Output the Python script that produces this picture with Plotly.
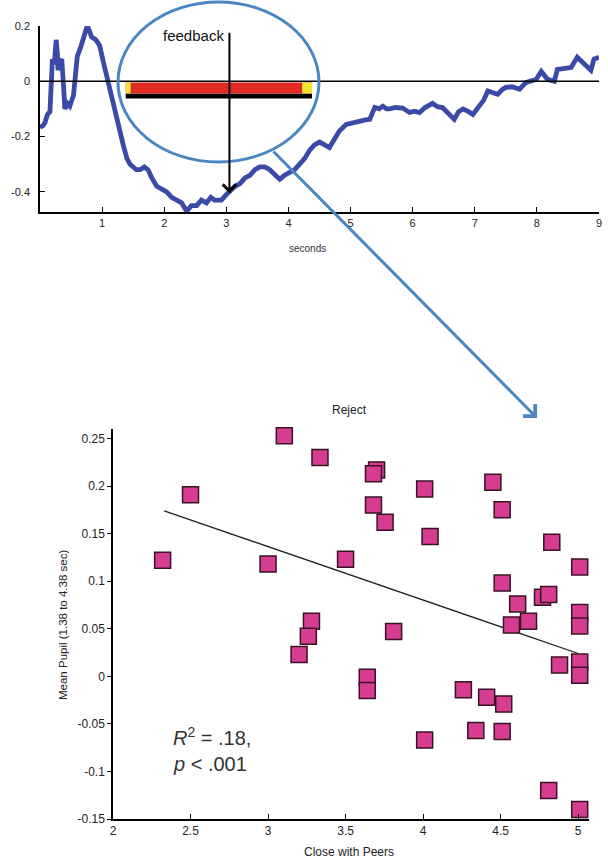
import plotly.graph_objects as go

# ---------------- data ----------------
# Top panel: pupil time course (seconds vs. pupil change)
t_sec = [0.00, 0.05, 0.08, 0.12, 0.16, 0.18, 0.20, 0.23, 0.26, 0.28, 0.29, 0.32, 0.35, 0.38,
         0.40, 0.44, 0.48, 0.54, 0.58, 0.60, 0.65, 0.70, 0.76, 0.80, 0.83, 0.90, 0.96, 1.02,
         1.07, 1.14, 1.21, 1.28, 1.34, 1.40, 1.45, 1.55, 1.61, 1.68, 1.74, 1.80, 1.88, 1.96,
         2.04, 2.12, 2.20, 2.28, 2.36, 2.44, 2.52, 2.60, 2.68, 2.75, 2.81, 2.92, 3.00, 3.05,
         3.14, 3.22, 3.30, 3.38, 3.46, 3.54, 3.62, 3.70, 3.78, 3.86, 3.94, 4.02, 4.10, 4.18,
         4.26, 4.34, 4.42, 4.50, 4.58, 4.66, 4.74, 4.82, 4.93, 5.02, 5.14, 5.24, 5.31, 5.36,
         5.39, 5.46, 5.52, 5.58, 5.63, 5.72, 5.84, 5.95, 6.03, 6.11, 6.20, 6.32, 6.40, 6.48,
         6.58, 6.67, 6.74, 6.81, 6.90, 6.97, 7.07, 7.14, 7.21, 7.29, 7.37, 7.44, 7.50, 7.60,
         7.72, 7.82, 7.90, 7.99, 8.07, 8.12, 8.17, 8.28, 8.33, 8.45, 8.55, 8.65, 8.76, 8.83,
         8.87, 8.92, 9.00]
pupil_trace = [-0.167, -0.16, -0.15, -0.12, -0.11, -0.02, 0.08, 0.06, 0.15, 0.10, 0.04, 0.07,
               0.08, -0.02, -0.10, -0.08, -0.09, -0.05, 0.04, 0.09, 0.12, 0.16, 0.20, 0.18,
               0.16, 0.15, 0.13, 0.07, 0.02, -0.04, -0.10, -0.17, -0.23, -0.28, -0.30, -0.32,
               -0.32, -0.31, -0.32, -0.35, -0.38, -0.39, -0.40, -0.42, -0.43, -0.44, -0.47,
               -0.45, -0.45, -0.43, -0.44, -0.42, -0.43, -0.43, -0.41, -0.40, -0.38, -0.37,
               -0.35, -0.34, -0.32, -0.31, -0.31, -0.32, -0.34, -0.355, -0.34, -0.33, -0.32,
               -0.30, -0.28, -0.25, -0.23, -0.22, -0.23, -0.24, -0.21, -0.18, -0.156, -0.15,
               -0.145, -0.14, -0.138, -0.11, -0.095, -0.10, -0.09, -0.10, -0.10, -0.095,
               -0.097, -0.113, -0.108, -0.113, -0.095, -0.08, -0.092, -0.095, -0.115, -0.138,
               -0.11, -0.10, -0.11, -0.12, -0.09, -0.07, -0.035, -0.04, -0.047, -0.03, -0.022,
               -0.02, -0.029, -0.005, 0.0, 0.007, 0.036, 0.02, 0.007, 0.0, 0.043, 0.047, 0.05,
               0.087, 0.062, 0.05, 0.04, 0.08, 0.087]

window_start = 1.38
window_end = 4.38
feedback_time = 3.05
top_xticks = [1, 2, 3, 4, 5, 6, 7, 8, 9]
top_yticks = [-0.4, -0.2, 0, 0.2]
top_yticklabels = ["-0.4", "-0.2", "0", "0.2"]

# Bottom panel: Reject scatter
close_with_peers = [2.32, 2.50, 3.00, 3.105, 3.335, 3.28, 3.26, 3.20,
                    3.70, 3.68, 4.01, 4.45, 3.68, 3.755, 4.51, 4.045, 4.83, 3.50, 5.01,
                    4.51, 4.77, 4.81, 4.61, 4.68, 4.57, 5.01, 5.01, 3.81,
                    4.88, 5.01, 5.01, 3.64, 3.64, 4.26, 4.41, 4.52, 4.34, 4.51, 4.01,
                    4.81, 5.01]
mean_pupil = [0.122, 0.191, 0.118, 0.253, 0.230, 0.058, 0.042, 0.023,
              0.217, 0.213, 0.197, 0.204, 0.180, 0.162, 0.175, 0.147, 0.141, 0.123, 0.115,
              0.098, 0.083, 0.086, 0.076, 0.058, 0.054, 0.067, 0.053, 0.047,
              0.012, 0.015, 0.001, -0.001, -0.015, -0.014, -0.022, -0.029, -0.057, -0.058,
              -0.067, -0.120, -0.140]
fit_x = [2.33, 5.0]
fit_y = [0.174, 0.024]
bottom_xticks = [2, 2.5, 3, 3.5, 4, 4.5, 5]
bottom_xticklabels = ["2", "2.5", "3", "3.5", "4", "4.5", "5"]
bottom_yticks = [-0.15, -0.1, -0.05, 0, 0.05, 0.1, 0.15, 0.2, 0.25]
bottom_yticklabels = ["-0.15", "-0.1", "-0.05", "0", "0.05", "0.1", "0.15", "0.2", "0.25"]

# ---------------- layout helpers ----------------
W, H = 608, 861
def px(x):
    return x / W
def py(y):
    return 1 - y / H

FONT = "Liberation Sans, Arial, sans-serif"
BLUE_LINE = "#3a4aa6"
CALLOUT = "#4a86c2"
PINK = "#d63c8f"

fig = go.Figure()

# top trace
fig.add_trace(go.Scatter(
    x=t_sec, y=pupil_trace, mode="lines", xaxis="x", yaxis="y",
    line=dict(color=BLUE_LINE, width=4.8, shape="linear"),
    hoverinfo="skip", showlegend=False, cliponaxis=False))

# bottom fit line
fig.add_trace(go.Scatter(
    x=fit_x, y=fit_y, mode="lines", xaxis="x2", yaxis="y2",
    line=dict(color="#222222", width=1.3), showlegend=False))

# bottom scatter
fig.add_trace(go.Scatter(
    x=close_with_peers, y=mean_pupil, mode="markers", xaxis="x2", yaxis="y2",
    marker=dict(symbol="square", size=16, color=PINK,
                line=dict(color="#3a1226", width=1.5)),
    showlegend=False, cliponaxis=False))

shapes = []
# zero line in top panel
shapes.append(dict(type="line", xref="x", yref="y", x0=0, x1=9, y0=0, y1=0,
                   line=dict(color="black", width=1.3), layer="above"))
# analysis window bar
shapes.append(dict(type="rect", xref="x", yref="y", x0=window_start, x1=window_end,
                   y0=-0.062, y1=-0.044, fillcolor="black", line=dict(width=0)))
shapes.append(dict(type="rect", xref="x", yref="y", x0=window_start, x1=window_end,
                   y0=-0.044, y1=-0.004, fillcolor="#e02a26", line=dict(width=0)))
shapes.append(dict(type="rect", xref="x", yref="y", x0=window_start, x1=window_start + 0.08,
                   y0=-0.044, y1=-0.004, fillcolor="#f2e232", line=dict(width=0)))
shapes.append(dict(type="rect", xref="x", yref="y", x0=window_end - 0.16, x1=window_end,
                   y0=-0.044, y1=-0.004, fillcolor="#f2e232", line=dict(width=0)))
# callout ellipse
shapes.append(dict(type="circle", xref="paper", yref="paper",
                   x0=px(118), x1=px(319), y0=py(162), y1=py(2),
                   line=dict(color=CALLOUT, width=3)))

annotations = []
# feedback arrow
annotations.append(dict(x=feedback_time, y=-0.405, xref="x", yref="y",
                        ax=0, ay=-162, axref="pixel", ayref="pixel",
                        showarrow=True, arrowhead=4, arrowsize=1.3, arrowwidth=2,
                        arrowcolor="black", text="", standoff=0))
annotations.append(dict(x=px(226), y=py(36), xref="paper", yref="paper",
                        text="feedback", showarrow=False, xanchor="right", yanchor="middle",
                        font=dict(family=FONT, size=15, color="#111")))
# big callout arrow
annotations.append(dict(x=px(537), y=py(418), xref="paper", yref="paper",
                        ax=-265, ay=-268, showarrow=True, arrowhead=4, arrowsize=1.1,
                        arrowwidth=3, arrowcolor=CALLOUT, text="", standoff=0))
# axis titles
annotations.append(dict(x=px(307), y=py(248), xref="paper", yref="paper", text="seconds",
                        xanchor="center", yanchor="middle",
                        showarrow=False, font=dict(family=FONT, size=10, color="#333")))
annotations.append(dict(x=px(349), y=py(410), xref="paper", yref="paper", text="Reject",
                        xanchor="center", yanchor="middle",
                        showarrow=False, font=dict(family=FONT, size=12, color="#222")))
annotations.append(dict(x=px(349), y=py(852), xref="paper", yref="paper",
                        text="Close with Peers", showarrow=False,
                        xanchor="center", yanchor="middle",
                        font=dict(family=FONT, size=12, color="#222")))
annotations.append(dict(x=px(63), y=py(625), xref="paper", yref="paper",
                        text="Mean Pupil (1.38 to 4.38 sec)", textangle=-90, showarrow=False,
                        xanchor="center", yanchor="middle",
                        font=dict(family=FONT, size=11.5, color="#222")))
# stats text
annotations.append(dict(x=px(171), y=py(736), xref="paper", yref="paper", xanchor="left",
                        yanchor="middle",
                        text="<i>R</i><sup>2</sup> = .18,", showarrow=False,
                        font=dict(family=FONT, size=20, color="#333")))
annotations.append(dict(x=px(171), y=py(764), xref="paper", yref="paper", xanchor="left",
                        yanchor="middle",
                        text="<i>p</i> &lt; .001", showarrow=False,
                        font=dict(family=FONT, size=20, color="#333")))

tickfont = dict(family=FONT, size=11, color="#222")

fig.update_layout(
    width=W, height=H, margin=dict(l=0, r=0, t=0, b=0, autoexpand=False),
    paper_bgcolor="white", plot_bgcolor="white",
    showlegend=False,
    xaxis=dict(domain=[px(40), px(599)], range=[0, 9], anchor="y", automargin=False,
               tickvals=top_xticks, ticks="inside", ticklen=5, tickcolor="black",
               showline=True, linecolor="black", linewidth=1.5, showgrid=False,
               zeroline=False, tickfont=tickfont),
    yaxis=dict(domain=[py(212), py(26)], range=[-0.473, 0.2], anchor="x", automargin=False,
               tickvals=top_yticks, ticktext=top_yticklabels, ticks="inside",
               ticklen=5, tickcolor="black", showline=True, linecolor="black",
               linewidth=1.5, showgrid=False, zeroline=False, tickfont=tickfont,
               ticklabelstandoff=6),
    xaxis2=dict(domain=[px(113), px(589)], range=[2, 5.07], anchor="y2", automargin=False,
                tickvals=bottom_xticks, ticktext=bottom_xticklabels, ticks="inside",
                ticklen=5, tickcolor="black", showline=True, linecolor="black",
                linewidth=1.5, showgrid=False, zeroline=False,
                tickfont=dict(family=FONT, size=12, color="#222")),
    yaxis2=dict(domain=[py(819), py(429)], range=[-0.15, 0.26], anchor="x2", automargin=False,
                tickvals=bottom_yticks, ticktext=bottom_yticklabels, ticks="outside",
                ticklen=4, tickcolor="black", showline=True, linecolor="black",
                linewidth=1.5, showgrid=False, zeroline=False,
                tickfont=dict(family=FONT, size=12, color="#222")),
    shapes=shapes,
    annotations=annotations,
)

fig.write_html("out.html", config={"displayModeBar": False},
               post_script="document.body.style.margin='0';document.body.style.overflow='hidden';")
